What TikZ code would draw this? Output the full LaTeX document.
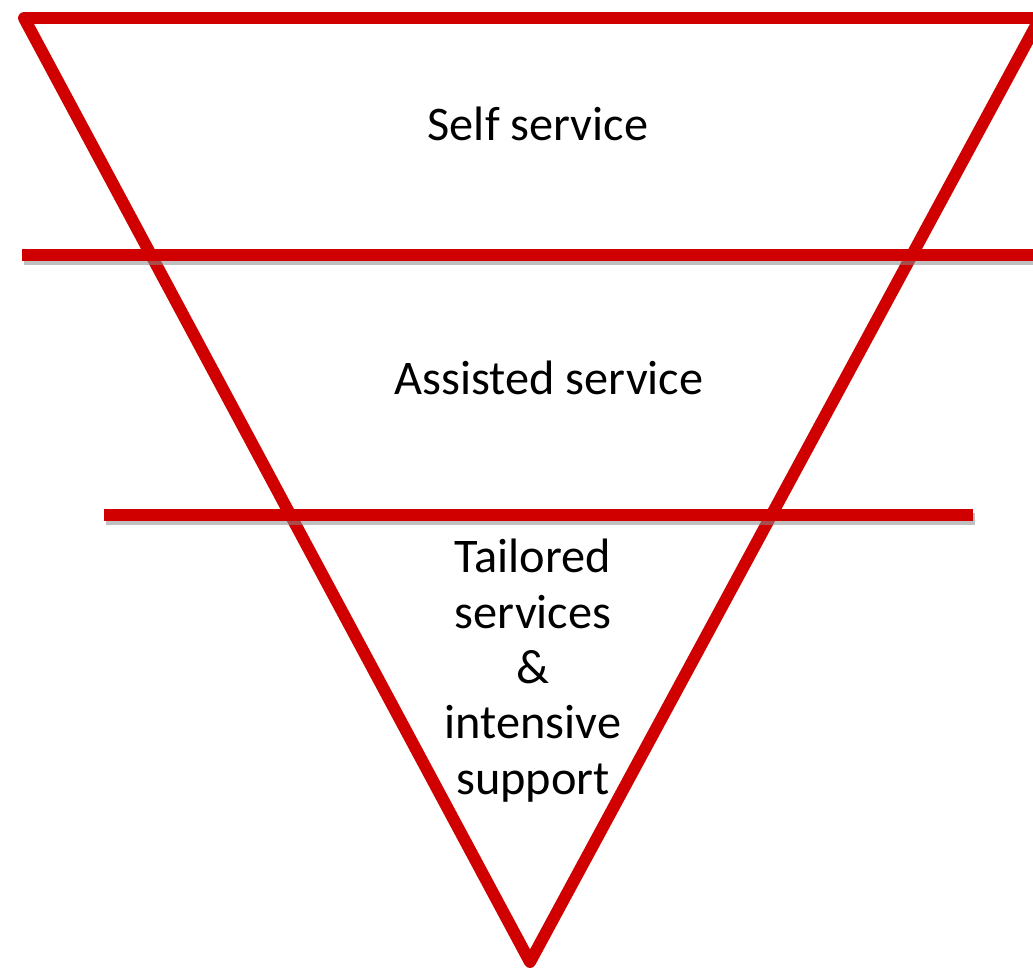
\documentclass[tikz,border=0pt]{standalone}
\usepackage{fontspec}
\setmainfont{Carlito}
\usepackage{tikz}
\usetikzlibrary{positioning}
\definecolor{BandRed}{RGB}{208,0,0}
\tikzset{
	redline/.style={draw=BandRed, line width=0.24cm, line join=round},
	shadowline/.style={draw=black!45, line width=0.24cm, opacity=0.55},
	tierlabel/.style={font=\fontsize{27.5}{31.5}\selectfont, align=center, inner sep=0pt},
}

\begin{document}
\begin{tikzpicture}[x=0.02cm, y=-0.02cm]
	\useasboundingbox (0,0) rectangle (1033,970);
	
	% ---------------------
	% Triangle corners
	\coordinate (TopLeft)  at (24,18);
	\coordinate (TopRight) at (1040,18);
	\coordinate (Apex)     at (530,962);
	
	% Band dividers
	\coordinate (UpperDivL) at (22,255);
	\coordinate (UpperDivR) at (1050,255);
	\coordinate (LowerDivL) at (104,515);
	\coordinate (LowerDivR) at (973,515);
	
	% ---------------------
	\draw[redline] (TopLeft) -- (TopRight) -- (Apex) -- cycle;
	
	% shadows under the dividers
	\draw[shadowline] ([shift={(2,4)}]UpperDivL) -- ([shift={(2,4)}]UpperDivR);
	\draw[shadowline] ([shift={(2,4)}]LowerDivL) -- ([shift={(2,4)}]LowerDivR);
	
	\draw[redline] (UpperDivL) -- (UpperDivR);
	\draw[redline] (LowerDivL) -- (LowerDivR);
	
	% ------------------------------------------------
	% Labels
	\node[tierlabel] (SelfService)     at (538,124) {Self service};
	\node[tierlabel] (AssistedService) at (549,378) {Assisted service};
	\node[tierlabel, anchor=north] (Tailored) at (533,539)
		{Tailored\\services\\\&\\intensive\\support};
	
\end{tikzpicture}
\end{document}
